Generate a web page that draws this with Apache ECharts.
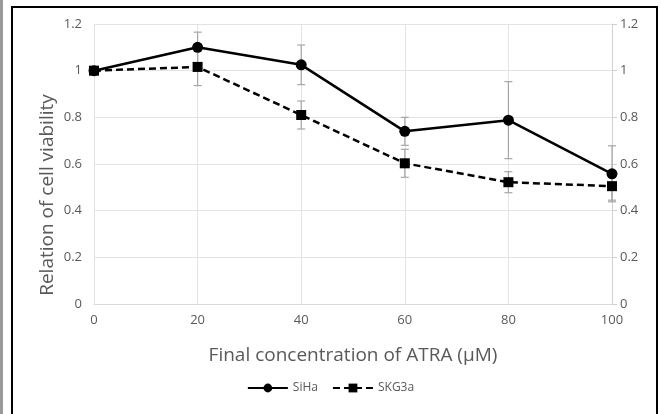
<!DOCTYPE html>
<html>
<head>
<meta charset="utf-8">
<script src="https://cdn.jsdelivr.net/npm/echarts@6/dist/echarts.min.js"></script>
<style>
  html, body { margin: 0; padding: 0; background: #fff; }
  #main { width: 661px; height: 414px; }
</style>
</head>
<body>
<div id="main"></div>
<script>
// concentrations of ATRA (uM)
var concentrations = [0, 20, 40, 60, 80, 100];
var sihaValues = [1.0, 1.10, 1.025, 0.74, 0.788, 0.558];
var sihaErrors = [0, 0.065, 0.085, 0.06, 0.165, 0.12];
var skgValues = [1.0, 1.016, 0.81, 0.603, 0.522, 0.505];
var skgErrors = [0, 0.08, 0.06, 0.06, 0.045, 0.06];

var chart = echarts.init(document.getElementById('main'), null, { renderer: 'canvas' });

var textColor = '#595959';
var fontFam = '"Open Sans", sans-serif';

function pairs(vals, errs) {
  return concentrations.map(function (c, i) { return [c, vals[i], errs[i]]; });
}

function errorBars(vals, errs, name) {
  return {
    type: 'custom',
    name: name + ' err',
    z: 1,
    silent: true,
    renderItem: function (params, api) {
      var x = api.value(0), y = api.value(1), e = api.value(2);
      if (!e) return null;
      var hi = api.coord([x, y + e]);
      var lo = api.coord([x, y - e]);
      var cap = 4;
      var style = { stroke: '#a6a6a6', lineWidth: 1.2 };
      return {
        type: 'group',
        children: [
          { type: 'line', shape: { x1: hi[0], y1: hi[1], x2: lo[0], y2: lo[1] }, style: style },
          { type: 'line', shape: { x1: hi[0] - cap, y1: hi[1], x2: hi[0] + cap, y2: hi[1] }, style: style },
          { type: 'line', shape: { x1: lo[0] - cap, y1: lo[1], x2: lo[0] + cap, y2: lo[1] }, style: style }
        ]
      };
    },
    encode: { x: 0, y: 1 },
    data: pairs(vals, errs)
  };
}

var yLabel = { color: textColor, fontSize: 13, fontFamily: fontFam };

var option = {
  backgroundColor: '#fff',
  animation: false,
  textStyle: { fontFamily: fontFam },
  graphic: [
    { type: 'rect', shape: { x: 0, y: 0, width: 3, height: 414 }, style: { fill: '#9a9a9a' } },
    { type: 'rect', shape: { x: 12, y: 7, width: 645, height: 420 }, style: { fill: 'none', stroke: '#000', lineWidth: 2 } },
    {
      type: 'text',
      x: 48, y: 195,
      rotation: Math.PI / 2,
      style: {
        text: 'Relation of cell viability',
        fill: textColor,
        font: '19px "Open Sans", sans-serif',
        align: 'center',
        verticalAlign: 'middle'
      }
    }
  ],
  grid: { left: 94, right: 49, top: 24, bottom: 110 },
  legend: {
    bottom: 15,
    left: 'center',
    itemWidth: 40,
    itemHeight: 11,
    itemGap: 14,
    textStyle: { color: textColor, fontSize: 12, fontFamily: fontFam },
    data: ['SiHa', 'SKG3a']
  },
  xAxis: {
    type: 'value',
    min: 0, max: 100, interval: 20,
    name: 'Final concentration of ATRA (μM)',
    nameLocation: 'middle',
    nameGap: 42,
    nameTextStyle: { color: textColor, fontSize: 19, fontFamily: fontFam },
    axisLine: { show: true, lineStyle: { color: '#d9d9d9' } },
    axisTick: { show: false },
    axisLabel: { color: textColor, fontSize: 13, margin: 10, fontFamily: fontFam },
    splitLine: { show: true, lineStyle: { color: '#e3e3e3' } }
  },
  yAxis: [
    {
      type: 'value',
      min: 0, max: 1.2, interval: 0.2,
      axisLine: { show: false },
      axisTick: { show: false },
      axisLabel: Object.assign({ margin: 12 }, yLabel),
      splitLine: { show: true, lineStyle: { color: '#e3e3e3' } }
    },
    {
      type: 'value',
      position: 'right',
      min: 0, max: 1.2, interval: 0.2,
      axisLine: { show: true, lineStyle: { color: '#d0d0d0' } },
      axisTick: { show: true, length: 5, lineStyle: { color: '#d0d0d0' } },
      axisLabel: Object.assign({ margin: 8 }, yLabel),
      splitLine: { show: false }
    }
  ],
  series: [
    errorBars(sihaValues, sihaErrors, 'SiHa'),
    errorBars(skgValues, skgErrors, 'SKG3a'),
    {
      name: 'SiHa',
      type: 'line',
      z: 3,
      symbol: 'circle',
      symbolSize: 11,
      itemStyle: { color: '#000' },
      lineStyle: { color: '#000', width: 2.5 },
      data: pairs(sihaValues, sihaErrors).map(function (p) { return [p[0], p[1]]; })
    },
    {
      name: 'SKG3a',
      type: 'line',
      z: 3,
      symbol: 'rect',
      symbolSize: 10,
      itemStyle: { color: '#000' },
      lineStyle: { color: '#000', width: 2.5, type: [7, 4] },
      data: pairs(skgValues, skgErrors).map(function (p) { return [p[0], p[1]]; })
    }
  ]
};

chart.setOption(option);
</script>
</body>
</html>
